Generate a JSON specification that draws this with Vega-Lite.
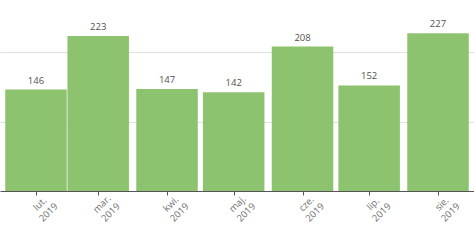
{
  "$schema": "https://vega.github.io/schema/vega-lite/v6.json",
  "width": 474,
  "height": 191,
  "autosize": {"type": "none"},
  "padding": {"left": 0, "right": 0, "top": 0, "bottom": 49},
  "background": "white",
  "config": {"view": {"stroke": null}},
  "data": {
    "values": [
      {"month": "2019-02-01", "count": 146},
      {"month": "2019-03-01", "count": 223},
      {"month": "2019-04-01", "count": 147},
      {"month": "2019-05-01", "count": 142},
      {"month": "2019-06-01", "count": 208},
      {"month": "2019-07-01", "count": 152},
      {"month": "2019-08-01", "count": 227}
    ]
  },
  "encoding": {
    "x": {
      "field": "month",
      "type": "temporal",
      "scale": {
        "type": "utc",
        "padding": 0,
        "domain": [
          {"year": 2019, "month": 1, "date": 15, "hours": 19, "utc": true},
          {"year": 2019, "month": 8, "date": 17, "hours": 5, "utc": true}
        ]
      },
      "axis": {
        "title": null,
        "grid": false,
        "tickCount": {"interval": "month", "step": 1},
        "labelExpr": "[['sty.','lut.','mar.','kwi.','maj.','cze.','lip.','sie.','wrz.','paź.','lis.','gru.'][utcmonth(datum.value)], '' + utcyear(datum.value)]",
        "labelAngle": -45,
        "labelAlign": "center",
        "labelBaseline": "top",
        "labelPadding": 5,
        "labelLineHeight": 12,
        "labelFont": "Open Sans",
        "labelFontSize": 9.5,
        "labelColor": "#707070",
        "labelOverlap": false,
        "labelFlush": false,
        "domainColor": "#555555",
        "tickColor": "#555555",
        "tickSize": 4
      }
    },
    "y": {
      "field": "count",
      "type": "quantitative",
      "scale": {"domain": [0, 275], "nice": false, "zero": true},
      "axis": {
        "title": null,
        "values": [100, 200],
        "grid": true,
        "gridColor": "#e0e0e0",
        "domain": false,
        "ticks": false,
        "labels": false
      }
    }
  },
  "layer": [
    {"mark": {"type": "bar", "width": 61.5, "color": "#8dc26f"}},
    {
      "mark": {
        "type": "text",
        "baseline": "alphabetic",
        "dy": -6,
        "font": "Open Sans",
        "fontSize": 9.5,
        "color": "#505050"
      },
      "encoding": {"text": {"field": "count", "type": "quantitative"}}
    }
  ]
}
